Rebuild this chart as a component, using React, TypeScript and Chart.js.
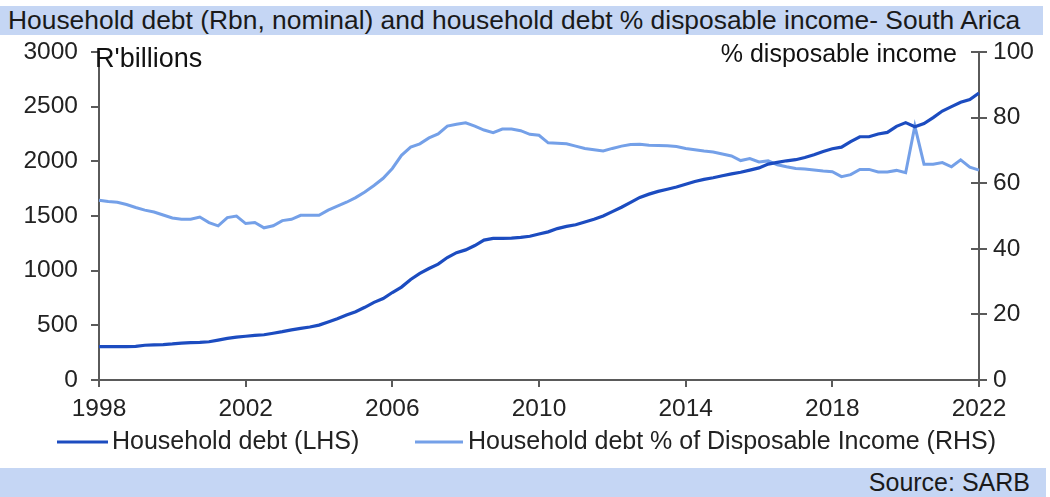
import { useEffect, useRef } from "react";
import { Chart, registerables } from "chart.js";

Chart.register(...registerables);

// Quarterly observations, 1998Q1 to 2022Q1
const quarters: string[] = [];
for (let y = 1998; y <= 2022; y++) {
  for (let q = 1; q <= 4; q++) {
    if (y === 2022 && q > 1) break;
    quarters.push(`${y}Q${q}`);
  }
}

// Year labels shown on the horizontal axis
const yearTicks = ["1998", "2002", "2006", "2010", "2014", "2018", "2022"];

// Household debt, R billions (left axis)
const householdDebt = [
  305, 305, 305, 306, 308, 318, 322, 324,
  330, 338, 342, 345, 350, 365, 380, 392,
  400, 408, 414, 428, 442, 458, 472, 485,
  502, 530, 560, 595, 625, 665, 710, 745,
  800, 850, 920, 975, 1020, 1060, 1120, 1165,
  1190, 1230, 1280, 1295, 1296, 1298, 1305, 1315,
  1335, 1355, 1385, 1405, 1420, 1445, 1470, 1500,
  1540, 1580, 1625, 1670, 1700, 1725, 1745, 1765,
  1790, 1815, 1835, 1850, 1868, 1885, 1900, 1920,
  1940, 1975, 1990, 2005, 2015, 2035, 2060, 2090,
  2115, 2130, 2180, 2225, 2225, 2250, 2265, 2320,
  2354, 2317, 2345, 2400, 2460, 2500, 2540, 2565,
  2625,
];

// Household debt as % of disposable income (right axis)
const debtPctIncome = [
  54.8, 54.4, 54.2, 53.5, 52.6, 51.8, 51.2, 50.3,
  49.4, 49.0, 49.0, 49.7, 48.0, 47.0, 49.5, 50.0,
  47.7, 48.0, 46.4, 47.0, 48.6, 49.0, 50.2, 50.2,
  50.2, 51.8, 53.0, 54.2, 55.6, 57.3, 59.3, 61.5,
  64.5, 68.5, 71.0, 72.0, 73.8, 75.0, 77.4, 78.0,
  78.4, 77.4, 76.2, 75.4, 76.5, 76.5, 76.0, 74.9,
  74.6, 72.3, 72.2, 72.0, 71.3, 70.6, 70.2, 69.8,
  70.6, 71.3, 71.8, 71.9, 71.6, 71.5, 71.4, 71.2,
  70.6, 70.2, 69.8, 69.5, 68.9, 68.3, 66.9, 67.5,
  66.5, 66.8, 65.6, 65.0, 64.5, 64.3, 64.0, 63.7,
  63.5, 62.0, 62.6, 64.2, 64.2, 63.4, 63.4, 63.9,
  63.2, 77.4, 65.8, 65.8, 66.3, 65.0, 67.1, 64.9,
  64.0,
];

const seriesNames = [
  "Household debt (LHS)",
  "Household debt % of Disposable Income (RHS)",
];

const DARK_BLUE = "#1c4cc0";
const LIGHT_BLUE = "#74a0e8";
const AXIS_COLOR = "#5a5a5a";
const TEXT_COLOR = "#222222";
const BAR_COLOR = "#c5d6f4";
const FONT = "'Liberation Sans', Arial, sans-serif";

// Axis captions, inward ticks on the right axis and the legend row
const decorations = {
  id: "decorations",
  afterDraw(chart: any) {
    const { ctx, chartArea } = chart;
    ctx.save();

    // right axis ticks cross the axis line
    const y1 = chart.scales.y1;
    ctx.strokeStyle = AXIS_COLOR;
    ctx.lineWidth = 2;
    y1.ticks.forEach((t: any) => {
      const py = Math.round(y1.getPixelForValue(t.value));
      ctx.beginPath();
      ctx.moveTo(chartArea.right - 8, py);
      ctx.lineTo(chartArea.right, py);
      ctx.stroke();
    });

    // axis captions
    ctx.fillStyle = "#111111";
    ctx.textBaseline = "middle";
    ctx.font = `27px ${FONT}`;
    ctx.textAlign = "left";
    ctx.fillText("R'billions", chartArea.left - 4, 60);
    ctx.font = `25px ${FONT}`;
    ctx.textAlign = "right";
    ctx.fillText("% disposable income", 957, 55);

    // legend
    const slots = [
      { x0: 57, x1: 108, tx: 112 },
      { x0: 415, x1: 463, tx: 468 },
    ];
    const ly = 442;
    ctx.font = `25px ${FONT}`;
    ctx.textAlign = "left";
    chart.data.datasets.forEach((ds: any, i: number) => {
      const s = slots[i];
      ctx.strokeStyle = ds.borderColor;
      ctx.lineWidth = 3;
      ctx.beginPath();
      ctx.moveTo(s.x0, ly);
      ctx.lineTo(s.x1, ly);
      ctx.stroke();
      ctx.fillStyle = TEXT_COLOR;
      ctx.fillText(ds.label, s.tx, ly);
    });
    ctx.restore();
  },
};

export default function App() {
  const canvasRef = useRef<HTMLCanvasElement | null>(null);

  useEffect(() => {
    const canvas = canvasRef.current;
    if (!canvas) return;
    const tickFont = { family: FONT, size: 24.5 };

    const chart = new Chart(canvas, {
      type: "line",
      data: {
        labels: quarters,
        datasets: [
          {
            label: seriesNames[0],
            data: householdDebt,
            borderColor: DARK_BLUE,
            backgroundColor: DARK_BLUE,
            borderWidth: 3.2,
            pointRadius: 0,
            yAxisID: "y",
          },
          {
            label: seriesNames[1],
            data: debtPctIncome,
            borderColor: LIGHT_BLUE,
            backgroundColor: LIGHT_BLUE,
            borderWidth: 3,
            pointRadius: 0,
            yAxisID: "y1",
          },
        ],
      },
      options: {
        animation: false,
        responsive: false,
        maintainAspectRatio: false,
        layout: { padding: { top: 52, bottom: 0, left: 0, right: 0 } },
        plugins: {
          legend: { display: false },
          tooltip: { enabled: false },
        },
        scales: {
          x: {
            type: "category",
            offset: false,
            grid: {
              drawOnChartArea: false,
              drawTicks: true,
              tickLength: 7,
              color: AXIS_COLOR,
              lineWidth: 2,
            },
            border: { display: true, color: AXIS_COLOR, width: 2 },
            ticks: {
              autoSkip: false,
              maxRotation: 0,
              minRotation: 0,
              padding: 8,
              color: TEXT_COLOR,
              font: tickFont,
              callback: (_v: any, i: number) => {
                const label = quarters[i];
                const year = label.slice(0, 4);
                return label.endsWith("Q1") && yearTicks.includes(year) ? year : null;
              },
            },
            afterFit: (scale: any) => {
              scale.height = 117;
            },
          },
          y: {
            position: "left",
            min: 0,
            max: 3000,
            grid: {
              drawOnChartArea: false,
              drawTicks: true,
              tickLength: 8,
              color: AXIS_COLOR,
              lineWidth: 2,
            },
            border: { display: true, color: AXIS_COLOR, width: 2 },
            ticks: {
              stepSize: 500,
              padding: 13,
              color: TEXT_COLOR,
              font: tickFont,
              callback: (v: any) => String(v),
            },
            afterFit: (scale: any) => {
              scale.width = 99;
            },
          },
          y1: {
            position: "right",
            min: 0,
            max: 100,
            grid: {
              drawOnChartArea: false,
              drawTicks: true,
              tickLength: 8,
              color: AXIS_COLOR,
              lineWidth: 2,
            },
            border: { display: true, color: AXIS_COLOR, width: 2 },
            ticks: {
              stepSize: 20,
              padding: 6,
              color: TEXT_COLOR,
              font: tickFont,
              callback: (v: any) => String(v),
            },
            afterFit: (scale: any) => {
              scale.width = 71;
            },
          },
        },
      },
      plugins: [decorations],
    });

    return () => chart.destroy();
  }, []);

  return (
    <div
      style={{
        position: "fixed",
        left: 0,
        top: 0,
        width: 1050,
        height: 497,
        background: "#ffffff",
        overflow: "hidden",
        fontFamily: FONT,
      }}
    >
      <div
        style={{
          position: "absolute",
          left: 0,
          top: 6,
          width: 1043,
          height: 29,
          background: BAR_COLOR,
          color: "#1a1a1a",
          fontSize: 26.4,
          lineHeight: "29px",
          paddingLeft: 8,
          boxSizing: "border-box",
          whiteSpace: "nowrap",
        }}
      >
        Household debt (Rbn, nominal) and household debt % disposable income- South Arica
      </div>
      <div
        style={{
          position: "absolute",
          left: 0,
          top: 468,
          width: 1046,
          height: 29,
          background: BAR_COLOR,
          color: "#1a1a1a",
          fontSize: 25,
          lineHeight: "29px",
          textAlign: "right",
          paddingRight: 16,
          boxSizing: "border-box",
          whiteSpace: "nowrap",
        }}
      >
        Source: SARB
      </div>
      <canvas
        ref={canvasRef}
        width={1050}
        height={497}
        style={{ position: "absolute", left: 0, top: 0, width: 1050, height: 497 }}
      />
    </div>
  );
}
